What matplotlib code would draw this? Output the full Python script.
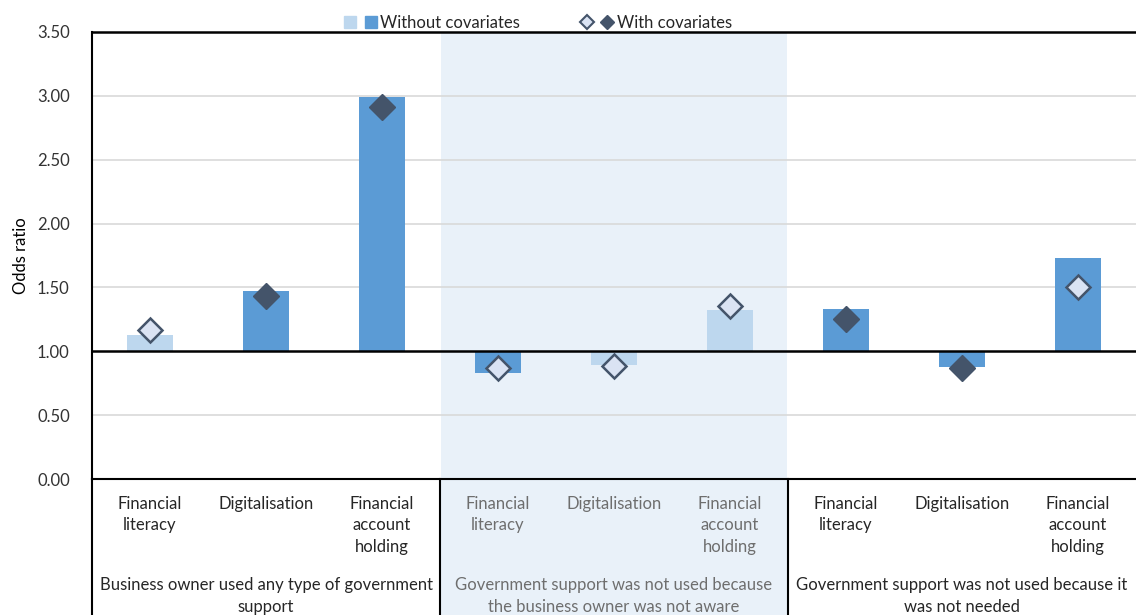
import matplotlib.pyplot as plt
from matplotlib.lines import Line2D
from matplotlib.patches import Rectangle
from matplotlib.legend_handler import HandlerTuple

plt.rcParams['font.family'] = ['Lato', 'DejaVu Sans']

categories = ["Financial\nliteracy", "Digitalisation", "Financial\naccount\nholding"] * 3
groups = ["Business owner used any type of government\nsupport",
          "Government support was not used because\nthe business owner was not aware",
          "Government support was not used because it\nwas not needed"]
without_cov = [1.13, 1.47, 2.99, 0.83, 0.89, 1.32, 1.33, 0.88, 1.73]
without_sig = [False, True, True, True, False, False, True, True, True]
with_cov = [1.17, 1.43, 2.91, 0.87, 0.885, 1.355, 1.25, 0.87, 1.50]
with_sig = [False, True, True, False, False, False, True, True, False]

bar_dark = "#5B9BD5"
bar_light = "#BDD7EE"
dia_dark = "#44546A"
dia_light = "#DAE3F3"
shade = "#E9F1F9"

fig = plt.figure(figsize=(11.36, 6.15), dpi=100)
ax = fig.add_axes([92 / 1136, (615 - 479) / 615, 1 - 92 / 1136, (479 - 32) / 615])

x = list(range(len(categories)))
ax.set_xlim(-0.5, 8.5)
ax.set_ylim(0, 3.5)

# shaded middle group (plot + label area)
fig.add_artist(Rectangle((441 / 1136, 0), 346 / 1136, (615 - 33) / 615,
                         transform=fig.transFigure, facecolor=shade, edgecolor="none", zorder=0))
ax.patch.set_alpha(0)

for yv in [0.5, 1.5, 2.0, 2.5, 3.0]:
    ax.axhline(yv, color="#D9D9D9", lw=1.2, zorder=1)

colors = [bar_dark if s else bar_light for s in without_sig]
heights = [v - 1 for v in without_cov]
ax.bar(x, heights, bottom=1, width=0.4, color=colors, zorder=2)

for xi, v, s in zip(x, with_cov, with_sig):
    if s:
        ax.plot(xi, v, marker="D", ms=13, color=dia_dark, mec=dia_dark, zorder=4)
    else:
        ax.plot(xi, v, marker="D", ms=12.5, color=dia_light, mec=dia_dark, mew=1.8, zorder=4)

ax.axhline(1.0, color="black", lw=1.8, zorder=3)
ax.axhline(3.5, color="black", lw=1.8, zorder=3, clip_on=False)

for sp in ["top", "right"]:
    ax.spines[sp].set_visible(False)
ax.spines["left"].set_linewidth(1.5)
ax.spines["bottom"].set_linewidth(1.5)

ax.set_yticks([0, 0.5, 1, 1.5, 2, 2.5, 3, 3.5])
ax.set_yticklabels([f"{t:.2f}" for t in ax.get_yticks()], fontsize=12, color="#333333")
ax.tick_params(axis="y", length=0, pad=16)
ax.set_xticks([])
ax.set_ylabel("Odds ratio", fontsize=12, color="black", labelpad=6)

# label table below the axis
for xv in [-0.5, 2.5, 5.5]:
    ax.plot([xv, xv], [0, -1.2], color="black", lw=1.5, clip_on=False, zorder=5)

for i, c in enumerate(categories):
    col = "#6E6E6E" if 3 <= i <= 5 else "#262626"
    ax.text(i, -0.13, c, ha="center", va="top", fontsize=12, linespacing=1.45,
            color=col)

for g, name in enumerate(groups):
    col = "#6E6E6E" if g == 1 else "#262626"
    ax.text(3 * g + 1, -0.765, name, ha="center", va="top", fontsize=12, linespacing=1.45,
            color=col)

h_bars = (Line2D([], [], marker="s", ls="", ms=8, color=bar_light),
          Line2D([], [], marker="s", ls="", ms=8, color=bar_dark))
h_dia = (Line2D([], [], marker="D", ls="", ms=7, mfc=dia_light, mec=dia_dark, mew=1.5),
         Line2D([], [], marker="D", ls="", ms=7, color=dia_dark))
fig.legend([h_bars, h_dia], ["Without covariates", "With covariates"],
           handler_map={tuple: HandlerTuple(ndivide=None, pad=0.5)},
           loc="center", bbox_to_anchor=(538 / 1136, 1 - 23 / 615), ncol=2,
           frameon=False, fontsize=12, handlelength=2.0, handletextpad=0.2,
           columnspacing=3.6, labelcolor="#262626")

fig.savefig("out.png", dpi=100)
